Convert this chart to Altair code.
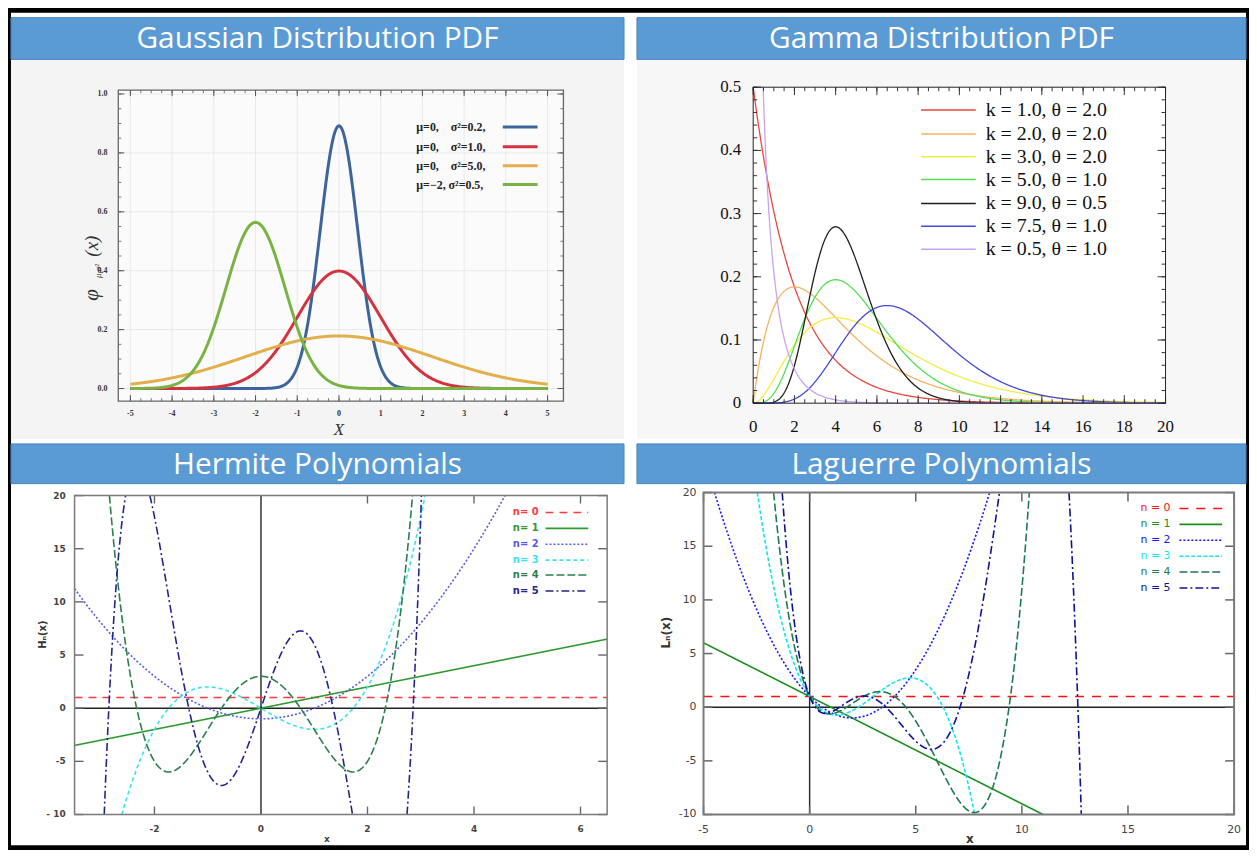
import math
import numpy as np
import pandas as pd
import altair as alt

NB = "\u00a0"

# ---------------- data ----------------
PANEL_TITLES = ["Gaussian Distribution PDF", "Gamma Distribution PDF",
                "Hermite Polynomials", "Laguerre Polynomials"]

# Gaussian PDF panel (parameters from its legend)
GAUSS_MU = [0, 0, 0, -2]
GAUSS_VAR = [0.2, 1.0, 5.0, 0.5]
GAUSS_LABELS = ["μ=0," + NB * 4 + "σ²=0.2,", "μ=0," + NB * 4 + "σ²=1.0,",
                "μ=0," + NB * 4 + "σ²=5.0,", "μ=−2," + NB + "σ²=0.5,"]
GAUSS_COLORS = ["#3e659b", "#d4323f", "#e4ae4c", "#77b443"]
GAUSS_XTICKS = [-5, -4, -3, -2, -1, 0, 1, 2, 3, 4, 5]
GAUSS_XTICKLABELS = ["-5", "-4", "-3", "-2", "-1", "0", "1", "2", "3", "4", "5"]
GAUSS_YTICKS = [0.0, 0.2, 0.4, 0.6, 0.8, 1.0]
GAUSS_YTICKLABELS = ["0.0", "0.2", "0.4", "0.6", "0.8", "1.0"]
GAUSS_XMINOR = [v / 4 for v in range(-20, 21)]
GAUSS_YMINOR = [v / 20 for v in range(0, 21)]

# Gamma PDF panel (parameters from its legend)
GAMMA_K = [1.0, 2.0, 3.0, 5.0, 9.0, 7.5, 0.5]
GAMMA_THETA = [2.0, 2.0, 2.0, 1.0, 0.5, 1.0, 1.0]
GAMMA_LABELS = ["k = 1.0, θ = 2.0", "k = 2.0, θ = 2.0", "k = 3.0, θ = 2.0",
                "k = 5.0, θ = 1.0", "k = 9.0, θ = 0.5", "k = 7.5, θ = 1.0",
                "k = 0.5, θ = 1.0"]
GAMMA_COLORS = ["#e8463e", "#f6b35e", "#f3ee42", "#52e052", "#1e1e1e", "#4747dd", "#c6a4ef"]
GAMMA_XTICKS = [0, 2, 4, 6, 8, 10, 12, 14, 16, 18, 20]
GAMMA_XTICKLABELS = ["0", "2", "4", "6", "8", "10", "12", "14", "16", "18", "20"]
GAMMA_YTICKS = [0, 0.1, 0.2, 0.3, 0.4, 0.5]
GAMMA_YTICKLABELS = ["0", "0.1", "0.2", "0.3", "0.4", "0.5"]
GAMMA_XMINOR = [v / 2 for v in range(0, 41)]
GAMMA_YMINOR = [v / 50 for v in range(0, 26)]

# Hermite polynomials (coefficients, ascending powers)
HERMITE_LABELS = ["n= 0", "n= 1", "n= 2", "n= 3", "n= 4", "n= 5"]
HERMITE_COEFS = [[1], [0, 1], [-1, 0, 1], [0, -3, 0, 1], [3, 0, -6, 0, 1], [0, 15, 0, -10, 0, 1]]
HERMITE_COLORS = ["#ff3b3b", "#2f9a2f", "#5a5ae8", "#3be3ef", "#2a7f4f", "#23238c"]
HERMITE_DASH = [[8, 6], [1, 0], [2, 2], [4, 3], [8, 3], [8, 3, 2, 3]]
HERMITE_XTICKS = [-2, 0, 2, 4, 6]
HERMITE_XTICKLABELS = ["-2", "0", "2", "4", "6"]
HERMITE_YTICKS = [-10, -5, 0, 5, 10, 15, 20]
HERMITE_YTICKLABELS = ["- 10", "-5", "0", "5", "10", "15", "20"]

# Laguerre polynomials (coefficients, ascending powers)
LAGUERRE_LABELS = ["n = 0", "n = 1", "n = 2", "n = 3", "n = 4", "n = 5"]
LAGUERRE_COEFS = [[1], [1, -1], [1, -2, 1 / 2], [1, -3, 3 / 2, -1 / 6],
                  [1, -4, 3, -2 / 3, 1 / 24], [1, -5, 5, -5 / 3, 5 / 24, -1 / 120]]
LAGUERRE_COLORS = ["#ff1010", "#1a8f1a", "#1414ff", "#10e6f0", "#1f7a4f", "#10109a"]
LAGUERRE_DASH = [[9, 8], [1, 0], [2, 2], [4, 2], [8, 3], [8, 3, 2, 3]]
LAGUERRE_XTICKS = [-5, 0, 5, 10, 15, 20]
LAGUERRE_XTICKLABELS = ["-5", "0", "5", "10", "15", "20"]
LAGUERRE_YTICKS = [-10, -5, 0, 5, 10, 15, 20]
LAGUERRE_YTICKLABELS = ["-10", "-5", "0", "5", "10", "15", "20"]

HEADER_FILL = "#5b9bd5"
HEADER_STROKE = "#4a84bd"
CANVAS_W, CANVAS_H = 1243, 838


# ---------------- curves, cut at the plot frame ----------------
def clip_curve(f, xs, lo, hi, label):
    ys = f(xs)
    rows = []
    seg = 0
    inside_run = False

    def cross(a, b, level):
        fa = f(np.array([a]))[0] - level
        for _ in range(60):
            m = 0.5 * (a + b)
            fm = f(np.array([m]))[0] - level
            if (fm > 0) == (fa > 0):
                a, fa = m, fm
            else:
                b = m
        return 0.5 * (a + b)

    for i in range(len(xs)):
        x, y = float(xs[i]), float(ys[i])
        ins = lo <= y <= hi
        if ins:
            if not inside_run:
                seg += 1
                if i > 0:
                    lvl = hi if ys[i - 1] > hi else lo
                    rows.append((cross(float(xs[i - 1]), x, lvl), lvl, label, f"{label}#{seg}"))
                inside_run = True
            rows.append((x, y, label, f"{label}#{seg}"))
        elif inside_run:
            lvl = hi if y > hi else lo
            rows.append((cross(float(xs[i - 1]), x, lvl), lvl, label, f"{label}#{seg}"))
            inside_run = False
    return rows


def table(funcs, labels, xs, lo, hi):
    rows = []
    for f, lab in zip(funcs, labels):
        rows += clip_curve(f, xs, lo, hi, lab)
    d = pd.DataFrame(rows, columns=["x", "y", "s", "seg"])
    d["x"] = d["x"].round(4)
    d["y"] = d["y"].round(5)
    return d


def gauss_f(mu, var):
    return lambda x: np.exp(-(x - mu) ** 2 / (2 * var)) / np.sqrt(2 * np.pi * var)


def gamma_f(k, th):
    c = math.gamma(k) * th ** k
    return lambda x: x ** (k - 1) * np.exp(-x / th) / c


def poly_f(coefs):
    return lambda x: np.polynomial.polynomial.polyval(x, coefs)


# ---------------- mark helpers (pixel layout) ----------------
ONE = pd.DataFrame({"k": [0]})


def prect(x0, x1, y0, y1, fill, stroke=None, sw=0):
    kw = {"fill": fill}
    if stroke:
        kw["stroke"] = stroke
        kw["strokeWidth"] = sw
    return alt.Chart(ONE).mark_rect(**kw).encode(
        x=alt.value(x0), x2=alt.value(x1), y=alt.value(y0), y2=alt.value(y1))


def pframe(x0, x1, y0, y1, color, sw):
    return alt.Chart(ONE).mark_rect(fillOpacity=0, stroke=color, strokeWidth=sw).encode(
        x=alt.value(x0), x2=alt.value(x1), y=alt.value(y0), y2=alt.value(y1))


def ptext(t, x, y, **kw):
    return alt.Chart(pd.DataFrame({"t": [t]})).mark_text(**kw).encode(
        x=alt.value(x), y=alt.value(y), text="t:N")


def xrules(vals, scale, y0, y1, color, sw):
    return alt.Chart(pd.DataFrame({"v": vals})).mark_rule(color=color, strokeWidth=sw).encode(
        x=alt.X("v:Q", scale=scale, axis=None), y=alt.value(y0), y2=alt.value(y1))


def yrules(vals, scale, x0, x1, color, sw):
    return alt.Chart(pd.DataFrame({"v": vals})).mark_rule(color=color, strokeWidth=sw).encode(
        y=alt.Y("v:Q", scale=scale, axis=None), x=alt.value(x0), x2=alt.value(x1))


def xlabels(vals, labs, scale, y, style):
    df = pd.DataFrame({"v": vals, "lab": labs})
    return alt.Chart(df).mark_text(align="center", baseline="middle", **style).encode(
        x=alt.X("v:Q", scale=scale, axis=None), y=alt.value(y), text="lab:N")


def ylabels(vals, labs, scale, x, style):
    df = pd.DataFrame({"v": vals, "lab": labs})
    return alt.Chart(df).mark_text(align="right", baseline="middle", **style).encode(
        y=alt.Y("v:Q", scale=scale, axis=None), x=alt.value(x), text="lab:N")


def panel(p):
    X0, Y0, W, H = p["plot"]
    X1, Y1 = X0 + W, Y0 + H
    hx0, hx1, hy0, hy1 = p["header"]
    xs = alt.Scale(domain=p["xd"], range=[X0, X1], nice=False, zero=False)
    ys = alt.Scale(domain=p["yd"], range=[Y1, Y0], nice=False, zero=False)
    cscale = alt.Scale(domain=p["labels"], range=p["colors"])
    dscale = alt.Scale(domain=p["labels"], range=p["dash"]) if p.get("dash") else None

    L = []
    if p.get("imgbg"):
        L.append(prect(hx0, hx1, hy1, p["bgy1"], p["imgbg"]))
    L.append(prect(hx0, hx1, hy0, hy1, HEADER_FILL, HEADER_STROKE, 1))
    L.append(ptext(p["title"], (hx0 + hx1) / 2, (hy0 + hy1) / 2 + 1,
                   font="Open Sans", fontSize=30, color="#ffffff",
                   align="center", baseline="middle"))
    L.append(prect(X0, X1, Y0, Y1, p["plotfill"]))

    if p.get("grid"):
        gx, gy, gc = p["grid"]
        L.append(xrules(gx, xs, Y0, Y1, gc, 1))
        L.append(yrules(gy, ys, X0, X1, gc, 1))
    if p.get("zerolines"):
        L.append(xrules([0], xs, Y0, Y1, "#222222", 1.4))
        L.append(yrules([0], ys, X0, X1, "#222222", 1.4))

    enc = dict(
        x=alt.X("x:Q", scale=xs, axis=None),
        y=alt.Y("y:Q", scale=ys, axis=None),
        color=alt.Color("s:N", scale=cscale, legend=None),
        detail="seg:N",
    )
    if dscale is not None:
        enc["strokeDash"] = alt.StrokeDash("s:N", scale=dscale, legend=None)
    L.append(alt.Chart(p["data"]).mark_line(strokeWidth=p["lw"]).encode(**enc))

    for vals, ln, col, sw, axis in p["ticks"]:
        if axis == "x":
            L.append(xrules(vals, xs, Y1, Y1 - ln, col, sw))
            L.append(xrules(vals, xs, Y0, Y0 + ln, col, sw))
        else:
            L.append(yrules(vals, ys, X0, X0 + ln, col, sw))
            L.append(yrules(vals, ys, X1, X1 - ln, col, sw))
    L.append(pframe(X0, X1, Y0, Y1, p["frame"][0], p["frame"][1]))

    xv, xl, xdy, xstyle = p["xlab"]
    L.append(xlabels(xv, xl, xs, Y1 + xdy, xstyle))
    yv, yl, ydx, ystyle = p["ylab"]
    L.append(ylabels(yv, yl, ys, X0 + ydx, ystyle))

    lg = p["legend"]
    ldf = pd.DataFrame({"s": p["labels"], "py": [Y0 + r for r in lg["rows"]]})
    tkw = dict(align=lg["talign"], baseline="middle", font=lg["font"],
               fontSize=lg["size"], fontWeight=lg["weight"])
    tenc = dict(x=alt.value(X0 + lg["tx"]), y=alt.Y("py:Q", scale=None, axis=None), text="s:N")
    if lg.get("tcolor"):
        tkw["color"] = lg["tcolor"]
    else:
        tenc["color"] = alt.Color("s:N", scale=cscale, legend=None)
    L.append(alt.Chart(ldf).mark_text(**tkw).encode(**tenc))
    renc = dict(x=alt.value(X0 + lg["lx"][0]), x2=alt.value(X0 + lg["lx"][1]),
                y=alt.Y("py:Q", scale=None, axis=None),
                color=alt.Color("s:N", scale=cscale, legend=None))
    if dscale is not None:
        renc["strokeDash"] = alt.StrokeDash("s:N", scale=dscale, legend=None)
    L.append(alt.Chart(ldf).mark_rule(strokeWidth=lg["lw"]).encode(**renc))

    for t, dx, dy, kw in p["texts"]:
        L.append(ptext(t, X0 + dx, Y0 + dy, **kw))
    return L


# ---------------- panels (pixel boxes inside the canvas) ----------------
SERIF_SMALL = dict(font="Liberation Serif", fontSize=8, fontWeight="bold", color="#333333")
SERIF_BIG = dict(font="Liberation Serif", fontSize=17, color="#111111")
SANS_BOLD9 = dict(font="DejaVu Sans", fontSize=9, fontWeight="bold", color="#444444")
SANS_11 = dict(font="DejaVu Sans", fontSize=11, color="#444444")
ITAL = dict(font="Liberation Serif", fontStyle="italic", color="#333333",
            align="center", baseline="middle")

g_H = 313
gauss = dict(
    title=PANEL_TITLES[0], plot=(108, 78, 448, g_H),
    header=(0, 617, 5, 47), imgbg="#f4f4f4", bgy1=429, plotfill="#fbfbfb",
    xd=[-5.29, 5.38], yd=[-0.043, 1.013],
    labels=GAUSS_LABELS, colors=GAUSS_COLORS, lw=3,
    data=table([gauss_f(m, v) for m, v in zip(GAUSS_MU, GAUSS_VAR)], GAUSS_LABELS,
               np.linspace(-5, 5, 501), -0.043, 1.013),
    grid=(GAUSS_XTICKS, GAUSS_YTICKS, "#e9e9e9"),
    xlab=(GAUSS_XTICKS, GAUSS_XTICKLABELS, 13, SERIF_SMALL),
    ylab=(GAUSS_YTICKS, GAUSS_YTICKLABELS, -11, SERIF_SMALL),
    ticks=[(GAUSS_XMINOR, 3, "#777777", 1, "x"), (GAUSS_XTICKS, 6, "#555555", 1, "x"),
           (GAUSS_YMINOR, 3, "#777777", 1, "y"), (GAUSS_YTICKS, 6, "#555555", 1, "y")],
    frame=("#666666", 1.3),
    legend=dict(rows=[37, 57, 76, 95], tx=300, talign="left", font="Liberation Serif",
                size=12, weight="bold", tcolor="#222222", lx=(387, 422), lw=3),
    texts=[
        ("X", 222, g_H + 29, dict(fontSize=17, **ITAL)),
        ("φ", -26, 206, dict(fontSize=21, angle=270, **ITAL)),
        ("μ,σ²", -20, 182, dict(fontSize=9, angle=270, **ITAL)),
        ("(x)", -26, 157, dict(fontSize=19, angle=270, **ITAL)),
    ],
)

gm_H = 318
gamma = dict(
    title=PANEL_TITLES[1], plot=(747, 75, 415, gm_H),
    header=(630, 1243, 5, 47), imgbg="#f7f7f7", bgy1=429, plotfill="#ffffff",
    xd=[0, 20], yd=[0, 0.5],
    labels=GAMMA_LABELS, colors=GAMMA_COLORS, lw=1.3,
    data=table([gamma_f(k, t) for k, t in zip(GAMMA_K, GAMMA_THETA)], GAMMA_LABELS,
               np.concatenate([[0.0005], np.arange(0.001, 0.2, 0.002), np.arange(0.2, 20.0001, 0.04)]),
               0, 0.5),
    xlab=(GAMMA_XTICKS, GAMMA_XTICKLABELS, 24, SERIF_BIG),
    ylab=(GAMMA_YTICKS, GAMMA_YTICKLABELS, -12, SERIF_BIG),
    ticks=[(GAMMA_XMINOR, 4, "#333333", 1, "x"), (GAMMA_XTICKS, 8, "#333333", 1, "x"),
           (GAMMA_YMINOR, 4, "#333333", 1, "y"), (GAMMA_YTICKS, 8, "#333333", 1, "y")],
    frame=("#222222", 1),
    legend=dict(rows=[23, 47, 70, 93, 117, 140, 163], tx=234, talign="left",
                font="Liberation Serif", size=20, weight="normal", tcolor="#111111",
                lx=(169, 224), lw=1.5),
    texts=[],
)

h_H = 321
hermite = dict(
    title=PANEL_TITLES[2], plot=(64, 486, 536, h_H),
    header=(0, 617, 434, 474), plotfill="#ffffff",
    xd=[-3.5, 6.5], yd=[-10, 20], zerolines=True,
    labels=HERMITE_LABELS, colors=HERMITE_COLORS, dash=HERMITE_DASH, lw=1.6,
    data=table([poly_f(c) for c in HERMITE_COEFS], HERMITE_LABELS,
               np.arange(-3.5, 6.5001, 0.005), -10, 20),
    xlab=(HERMITE_XTICKS, HERMITE_XTICKLABELS, 15, SANS_BOLD9),
    ylab=(HERMITE_YTICKS, HERMITE_YTICKLABELS, -9, SANS_BOLD9),
    ticks=[(HERMITE_XTICKS, 8, "#666666", 1.4, "x"), (HERMITE_YTICKS, 9, "#666666", 1.4, "y")],
    frame=("#7a7a7a", 1.5),
    legend=dict(rows=[17, 33, 49, 65, 80, 96], tx=467, talign="right", font="DejaVu Sans",
                size=10, weight="bold", lx=(474, 517), lw=1.6),
    texts=[
        ("x", 254, h_H + 25, dict(font="DejaVu Sans", fontSize=9, fontWeight="bold",
                                   color="#444444", align="center", baseline="middle")),
        ("Hₙ(x)", -32, 140, dict(font="DejaVu Sans", fontSize=10, fontWeight="bold",
                                  color="#333333", angle=270, align="center", baseline="middle")),
    ],
)

l_H = 324
laguerre = dict(
    title=PANEL_TITLES[3], plot=(697, 483, 534, l_H),
    header=(630, 1243, 434, 474), plotfill="#ffffff",
    xd=[-5, 20], yd=[-10, 20], zerolines=True,
    labels=LAGUERRE_LABELS, colors=LAGUERRE_COLORS, dash=LAGUERRE_DASH, lw=1.6,
    data=table([poly_f(c) for c in LAGUERRE_COEFS], LAGUERRE_LABELS,
               np.arange(-5, 20.0001, 0.01), -10, 20),
    xlab=(LAGUERRE_XTICKS, LAGUERRE_XTICKLABELS, 16, SANS_11),
    ylab=(LAGUERRE_YTICKS, LAGUERRE_YTICKLABELS, -7, SANS_11),
    ticks=[(LAGUERRE_XTICKS, 9, "#666666", 1.5, "x"), (LAGUERRE_YTICKS, 9, "#666666", 1.5, "y")],
    frame=("#7a7a7a", 2),
    legend=dict(rows=[16, 32, 48, 64, 80, 96], tx=470, talign="right", font="DejaVu Sans",
                size=11, weight="normal", lx=(479, 522), lw=1.6),
    texts=[
        ("x", 268, l_H + 25, dict(font="DejaVu Sans", fontSize=12, fontWeight="bold",
                                   color="#333333", align="center", baseline="middle")),
        ("Lₙ(x)", -38, 141, dict(font="DejaVu Sans", fontSize=12, fontWeight="bold",
                                  color="#333333", angle=270, align="center", baseline="middle")),
    ],
)

layers = []
for p in (gauss, gamma, hermite, laguerre):
    layers += panel(p)

chart = alt.layer(*layers).resolve_scale(
    x="independent", y="independent", color="independent", strokeDash="independent"
).properties(
    width=CANVAS_W, height=CANVAS_H, padding=2, background="#000000"
).configure_view(strokeWidth=0, fill="#ffffff")

chart.save("out.html", embed_options={"renderer": "svg", "actions": False})
